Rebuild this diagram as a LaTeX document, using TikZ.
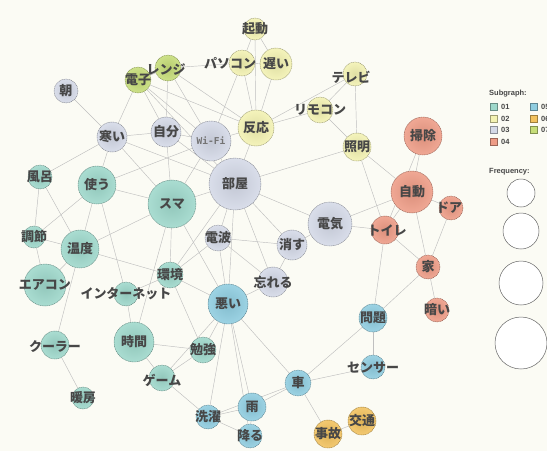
\documentclass[tikz,border=0pt]{standalone}
\usepackage{fontspec}
\newfontfamily\cjk{Noto Sans CJK JP}
\newfontfamily\wifont{DejaVu Sans Mono}
\newfontfamily\legfont{Liberation Sans}

% subgraph palette
\definecolor{cA}{HTML}{9ED8CB}
\definecolor{cB}{HTML}{F3F2B2}
\definecolor{cC}{HTML}{D4D9E7}
\definecolor{cD}{HTML}{EE9C86}
\definecolor{cE}{HTML}{8FCDE0}
\definecolor{cF}{HTML}{F2C25E}
\definecolor{cG}{HTML}{C6DD78}
\definecolor{paper}{HTML}{FBFBF4}

\pgfdeclarelayer{bg}
\pgfdeclarelayer{edges}
\pgfsetlayers{bg,edges,main}

\tikzset{
  vtx/.style={circle, inner sep=0pt, line width=0.45pt, dash pattern=on 1.2pt off 0.6pt},
  grp/.style={vtx, draw=#1!65!black, inner color=#1!92!black, outer color=#1!88!white},
  gA/.style={grp=cA},
  gB/.style={grp=cB},
  gC/.style={grp=cC},
  gD/.style={grp=cD},
  gE/.style={grp=cE},
  gF/.style={grp=cF},
  gG/.style={grp=cG},
  lbl/.style={font=\cjk\bfseries\fontsize{13}{13}\selectfont, text=black!72, inner sep=0pt},
  link/.style={draw=black!25, line width=0.45pt},
  legtitle/.style={font=\legfont\bfseries\fontsize{7.5}{8}\selectfont, text=black!72, inner sep=0pt, anchor=west},
  legtxt/.style={font=\legfont\bfseries\fontsize{7.5}{8}\selectfont, text=black!72, inner sep=0pt, anchor=west},
  swatch/.style={rectangle, minimum size=7pt, inner sep=0pt, line width=0.4pt},
  freqc/.style={circle, inner sep=0pt, draw=black!60, line width=0.5pt, fill=white},
}

% \vtxnode[label options]{name}{x}{y}{radius}{style}{text}
\newcommand\vtxnode[7][]{%
  \node[#6, minimum size=#5*2pt, label={[lbl,#1]center:#7}] (#2) at (#3,#4) {};}

\begin{document}
\begin{tikzpicture}[x=1pt,y=-1pt]
\useasboundingbox (0,0) rectangle (547,451);
\begin{pgfonlayer}{bg}
  \fill[paper] (0,0) rectangle (547,451);
\end{pgfonlayer}

% ---- subgraph 02 (yellow)
\vtxnode{kido}{255}{29}{11}{gB}{起動}
\vtxnode[xshift=-12pt]{pasokon}{242}{63}{13}{gB}{パソコン}
\vtxnode{osoi}{276}{64}{16}{gB}{遅い}
\vtxnode[xshift=-4pt,yshift=-3pt]{terebi}{355}{74}{12}{gB}{テレビ}
\vtxnode{rimokon}{320}{110}{13}{gB}{リモコン}
\vtxnode{hanno}{256}{128}{18}{gB}{反応}
\vtxnode{shomei}{357}{147}{14}{gB}{照明}

% ---- subgraph 07 (green)
\vtxnode{denshi}{138}{80}{13}{gG}{電子}
\vtxnode[xshift=-2pt,yshift=-2pt]{renji}{168}{68}{13}{gG}{レンジ}

% ---- subgraph 03 (lavender)
\vtxnode{asa}{66}{91}{12}{gC}{朝}
\vtxnode{samui}{112}{137}{15}{gC}{寒い}
\vtxnode{jibun}{166}{132}{15}{gC}{自分}
\vtxnode[font=\wifont\bfseries\fontsize{9.5}{10}\selectfont, text=black!55]{wifi}{211}{141}{20}{gC}{Wi-Fi}
\vtxnode{heya}{235}{184}{26}{gC}{部屋}
\vtxnode{denpa}{218}{238}{13}{gC}{電波}
\vtxnode{kesu}{292}{245}{15}{gC}{消す}
\vtxnode{denki}{330}{224}{22}{gC}{電気}
\vtxnode{wasure}{273}{282}{15}{gC}{忘れる}

% ---- subgraph 04 (salmon)
\vtxnode{soji}{423}{136}{19}{gD}{掃除}
\vtxnode{jido}{412}{192}{21}{gD}{自動}
\vtxnode[xshift=-2pt]{doa}{451}{208}{12}{gD}{ドア}
\vtxnode[xshift=2pt]{toire}{385}{230}{14}{gD}{トイレ}
\vtxnode{ie}{428}{267}{12}{gD}{家}
\vtxnode{kurai}{437}{310}{12}{gD}{暗い}

% ---- subgraph 01 (teal)
\vtxnode{furo}{40}{177}{12}{gA}{風呂}
\vtxnode{tsukau}{97}{185}{19}{gA}{使う}
\vtxnode{suma}{172}{204}{24}{gA}{スマ}
\vtxnode{chosetsu}{34}{237}{11}{gA}{調節}
\vtxnode{ondo}{80}{249}{19}{gA}{温度}
\vtxnode{eakon}{45}{285}{21}{gA}{エアコン}
\vtxnode{kankyo}{170}{275}{13}{gA}{環境}
\vtxnode{inet}{126}{294}{12}{gA}{インターネット}
\vtxnode{jikan}{134}{342}{20}{gA}{時間}
\vtxnode{benkyo}{203}{350}{13}{gA}{勉強}
\vtxnode[yshift=-2pt]{game}{162}{378}{13}{gA}{ゲーム}
\vtxnode[yshift=-2pt]{kura}{55}{345}{14}{gA}{クーラー}
\vtxnode{danbo}{83}{398}{11}{gA}{暖房}

% ---- subgraph 05 (blue)
\vtxnode{warui}{228}{304}{20}{gE}{悪い}
\vtxnode{mondai}{373}{318}{14}{gE}{問題}
\vtxnode[yshift=-1pt]{sensa}{373}{367}{12}{gE}{センサー}
\vtxnode{kuruma}{298}{383}{13}{gE}{車}
\vtxnode{ame}{252}{407}{14}{gE}{雨}
\vtxnode{sentaku}{208}{417}{12}{gE}{洗濯}
\vtxnode{furu}{250}{436}{12}{gE}{降る}

% ---- subgraph 06 (orange)
\vtxnode{jiko}{328}{434}{14}{gF}{事故}
\vtxnode{kotsu}{362}{421}{14}{gF}{交通}

% ---- co-occurrence links
\begin{pgfonlayer}{edges}
\foreach \a/\b in {
  asa/samui, denshi/renji, denshi/samui, denshi/jibun, denshi/wifi,
  denshi/heya, denshi/hanno, renji/jibun, renji/hanno, renji/pasokon,
  renji/wifi, kido/pasokon, kido/osoi, kido/hanno, pasokon/osoi,
  pasokon/hanno, pasokon/wifi, osoi/hanno, hanno/terebi, hanno/rimokon,
  hanno/wifi, hanno/heya, terebi/rimokon, terebi/shomei, rimokon/shomei,
  heya/shomei, shomei/toire, shomei/jido, samui/jibun, samui/tsukau,
  samui/furo, samui/heya, samui/suma, jibun/wifi, jibun/heya, jibun/suma,
  wifi/heya, wifi/suma, furo/chosetsu, furo/ondo, tsukau/suma,
  tsukau/ondo, tsukau/chosetsu, tsukau/inet, tsukau/wifi,
  chosetsu/ondo, chosetsu/eakon, ondo/eakon, ondo/kura, ondo/kankyo,
  ondo/suma, suma/heya, suma/kankyo, suma/jikan, suma/warui,
  heya/denpa, heya/kesu, heya/wasure, heya/warui, heya/denki,
  heya/kankyo, denpa/kesu, denpa/wasure, denpa/warui, denpa/kankyo,
  kesu/wasure, kesu/denki, denki/jido, denki/toire, soji/jido,
  soji/toire, jido/doa, jido/ie, jido/toire, doa/ie, toire/ie,
  ie/kurai, toire/mondai, ie/mondai, mondai/sensa, mondai/kuruma,
  sensa/kuruma, kuruma/warui, kuruma/ame, kuruma/sentaku, kuruma/jiko,
  jiko/kotsu, warui/ame, warui/furu, warui/benkyo, warui/sentaku,
  warui/wasure, warui/kankyo, warui/game, jikan/benkyo, jikan/game,
  jikan/inet, benkyo/game, game/sentaku, ame/sentaku, ame/furu,
  sentaku/furu, inet/kankyo, kura/danbo, benkyo/kankyo}
  \draw[link] (\a) -- (\b);
\end{pgfonlayer}

% ---- legend
\node[legtitle] (subgtitle) at (489,94) {Subgraph:};
\node[swatch, fill=cA, draw=cA!65!black] (swA) at (493.5,107) {};
\node[legtxt] at (501,107) {01};
\node[swatch, fill=cB, draw=cB!65!black] (swB) at (493.5,118.5) {};
\node[legtxt] at (501,118.5) {02};
\node[swatch, fill=cC, draw=cC!65!black] (swC) at (493.5,130) {};
\node[legtxt] at (501,130) {03};
\node[swatch, fill=cD, draw=cD!65!black] (swD) at (493.5,141.5) {};
\node[legtxt] at (501,141.5) {04};
\node[swatch, fill=cE, draw=cE!65!black] (swE) at (533.5,107) {};
\node[legtxt] at (541,107) {05};
\node[swatch, fill=cF, draw=cF!65!black] (swF) at (533.5,118.5) {};
\node[legtxt] at (541,118.5) {06};
\node[swatch, fill=cG, draw=cG!65!black] (swG) at (533.5,130) {};
\node[legtxt] at (541,130) {07};

\node[legtitle] (freqtitle) at (489,172) {Frequency:};
\node[freqc, minimum size=28pt] (fq1) at (521,193) {};
\node[freqc, minimum size=36pt] (fq2) at (521,231) {};
\node[freqc, minimum size=44pt] (fq3) at (521,283) {};
\node[freqc, minimum size=52pt] (fq4) at (521,343) {};
\end{tikzpicture}
\end{document}
